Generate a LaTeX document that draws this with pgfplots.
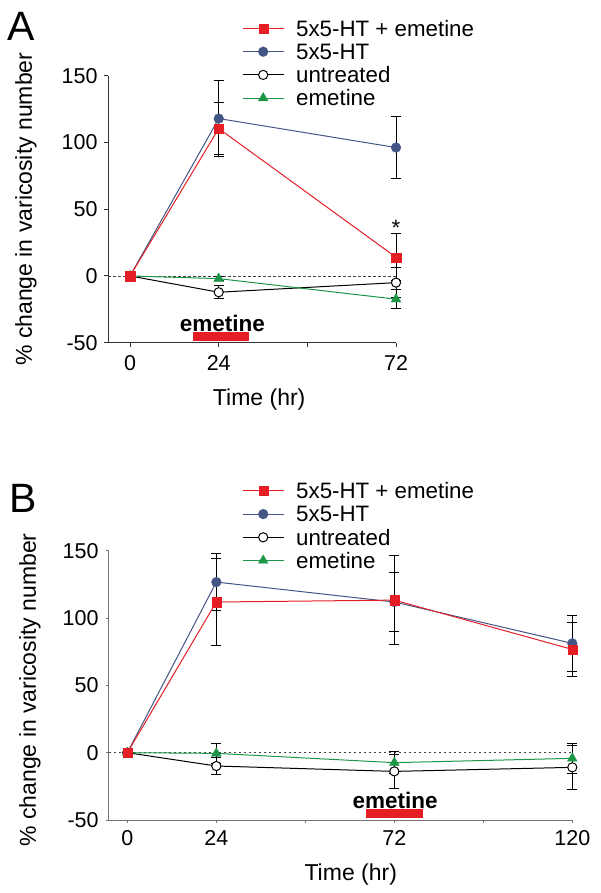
\documentclass[border=0pt]{standalone}
\usepackage{pgfplots}
\pgfplotsset{compat=1.18}
\usepackage{pgfplotstable}
\usepackage{fontspec}
\setmainfont{Liberation Sans}
\definecolor{cred}{RGB}{228,30,36}
\definecolor{cblue}{RGB}{68,86,134}
\definecolor{cgreen}{RGB}{26,150,70}
\newcommand\fs{\fontsize{21.5}{25}\selectfont}
\newcommand\fl{\fontsize{23}{27}\selectfont}
\newcommand\fg{\fontsize{22.3}{26}\selectfont}

\pgfplotstableread{
x y e
0 0 0
24 110.4 19.6
72 14.0 17.6
}\Ared
\pgfplotstableread{
x y e
0 0 0
24 117.9 28.6
72 96.2 23
}\Ablue
\pgfplotstableread{
x y e
0 0 0
24 -12.2 5
72 -5.0 11.5
}\Aunt
\pgfplotstableread{
x y e
0 0 0
24 -2 1.5
72 -17.4 7
}\Aeme

\pgfplotstableread{
x y e
0 0 0
24 111.9 32
72 113.3 33.3
120 76.7 19.8
}\Bred
\pgfplotstableread{
x y e
0 0 0
24 126.7 21.3
72 111.9 21.9
120 81.2 21
}\Bblue
\pgfplotstableread{
x y e
0 0 0
24 -9.9 6
72 -13.9 12.8
120 -10.9 16.3
}\Bunt
\pgfplotstableread{
x y e
0 0 0
24 -0.5 7.5
72 -7.4 8
120 -4.2 11
}\Beme

\pgfplotsset{
  base/.style={
    scale only axis, clip=false,
    axis lines*=left,
    axis line style={line width=1pt, black!80},
    tick align=outside, major tick length=4pt,
    tick style={line width=1pt, black!80},
    ymin=-50, ymax=150, ytick={-50,0,50,100,150},
    /pgf/number format/assume math mode=true,
    tick label style={font=\fs, inner sep=0pt},
    label style={font=\fl},
    legend image code/.code={\draw[mark repeat=2,mark phase=2,##1] plot coordinates {(0pt,0pt) (20.5pt,0pt) (41pt,0pt)}; \path (53pt,0pt);},
    legend style={draw=none, fill=none, inner sep=0pt, anchor=north west, font=\fg,
      nodes={inner sep=0pt, text height=19.3pt, text depth=3.9pt}, cells={anchor=west}, row sep=0pt},
    legend cell align=left,
  },
  eb/.style={black, line width=1pt, only marks, mark=none, forget plot,
    error bars/.cd, y dir=both, y explicit,
    error bar style={line width=1pt, black},
    error mark options={rotate=90, mark size=5pt, line width=1pt, black}},
  sred/.style={cred, line width=1pt, mark=square*, mark size=4.6pt, mark options={fill=cred, draw=cred, line width=0.1pt}},
  sblue/.style={cblue, line width=1pt, mark=*, mark size=5pt, mark options={fill=cblue, draw=cblue, line width=0.1pt}},
  sunt/.style={black, line width=1pt, mark=*, mark size=4.6pt, mark options={fill=white, draw=black, line width=1pt}},
  seme/.style={cgreen, line width=1pt, mark=triangle*, mark size=5.8pt, mark options={fill=cgreen, draw=cgreen, line width=0.1pt}},
}

\begin{document}
\begin{tikzpicture}
\useasboundingbox (0,0) rectangle (601pt,-893pt);

% ---------------- Panel A
\node[font=\fontsize{41}{42}\selectfont] at (21pt,-26pt) {A};
\begin{axis}[base,
  at={(108.3pt,-342.7pt)}, anchor=south west,
  width=287.7pt, height=267pt,
  xmin=-5.9, xmax=72,
  xtick={0,24,48,72}, xticklabels={0,24,,72},
  yticklabel style={xshift=-6.5pt},
  xticklabel style={yshift=-8.3pt},
  xlabel={Time (hr)}, ylabel={\% change in varicosity number},
  xlabel style={at={(axis description cs:0.5245,-0.2146)}, anchor=center},
  ylabel style={at={(axis description cs:-0.2861,0.5)}, anchor=center},
  legend style={at={(axis description cs:0.4647,1.221)}},
]
\addlegendimage{sred}\addlegendentry{5x5-HT + emetine}
\addlegendimage{sblue}\addlegendentry{5x5-HT}
\addlegendimage{sunt}\addlegendentry{untreated}
\addlegendimage{seme}\addlegendentry{emetine}
\draw[black!75, line width=0.7pt, dash pattern=on 2.5pt off 2.5pt] (axis cs:-5.9,0) -- (axis cs:72,0);
\fill[cred] (axis cs:17.0,-42.1) rectangle (axis cs:32.3,-48.4);
\node[font=\fontsize{22.5}{26}\selectfont\bfseries] at (axis cs:25,-35.4) {emetine};
\node[font=\fg] at (axis cs:72,36) {*};
\addplot[eb] table[x=x,y=y,y error=e] {\Ablue};
\addplot[eb] table[x=x,y=y,y error=e] {\Ared};
\addplot[eb] table[x=x,y=y,y error=e] {\Aunt};
\addplot[eb] table[x=x,y=y,y error=e] {\Aeme};
\addplot[sblue, forget plot] table[x=x,y=y] {\Ablue};
\addplot[sunt, forget plot] table[x=x,y=y] {\Aunt};
\addplot[seme, forget plot] table[x=x,y=y] {\Aeme};
\addplot[sred, forget plot] table[x=x,y=y] {\Ared};
\end{axis}

% ---------------- Panel B
\node[font=\fontsize{41}{42}\selectfont] at (23pt,-498pt) {B};
\begin{axis}[base,
  at={(108.8pt,-820pt)}, anchor=south west,
  width=463.5pt, height=269.3pt,
  xmin=-5.0, xmax=120,
  axis line style={line width=1pt, black!55},
  tick style={line width=0.8pt, black!55},
  major tick length=3pt,
  xtick={0,24,48,72,96,120}, xticklabels={0,24,,72,,120},
  yticklabel style={xshift=-7pt},
  xticklabel style={yshift=-7pt},
  xlabel={Time (hr)}, ylabel={\% change in varicosity number},
  xlabel style={at={(axis description cs:0.522,-0.2042)}, anchor=center},
  ylabel style={at={(axis description cs:-0.1704,0.483)}, anchor=center},
  legend style={at={(axis description cs:0.2874,1.2659)}},
]
\addlegendimage{sred}\addlegendentry{5x5-HT + emetine}
\addlegendimage{sblue}\addlegendentry{5x5-HT}
\addlegendimage{sunt}\addlegendentry{untreated}
\addlegendimage{seme}\addlegendentry{emetine}
\draw[black!75, line width=0.7pt, dash pattern=on 2.5pt off 2.5pt] (axis cs:-5.0,0) -- (axis cs:120,0);
\fill[cred] (axis cs:64.4,-42.1) rectangle (axis cs:79.7,-48.3);
\node[font=\fontsize{22.5}{26}\selectfont\bfseries] at (axis cs:72.2,-35.4) {emetine};
\addplot[eb] table[x=x,y=y,y error=e] {\Bblue};
\addplot[eb] table[x=x,y=y,y error=e] {\Bred};
\addplot[eb] table[x=x,y=y,y error=e] {\Bunt};
\addplot[eb] table[x=x,y=y,y error=e] {\Beme};
\addplot[sblue, forget plot] table[x=x,y=y] {\Bblue};
\addplot[sunt, forget plot] table[x=x,y=y] {\Bunt};
\addplot[seme, forget plot] table[x=x,y=y] {\Beme};
\addplot[sred, forget plot] table[x=x,y=y] {\Bred};
\end{axis}
\end{tikzpicture}
\end{document}
